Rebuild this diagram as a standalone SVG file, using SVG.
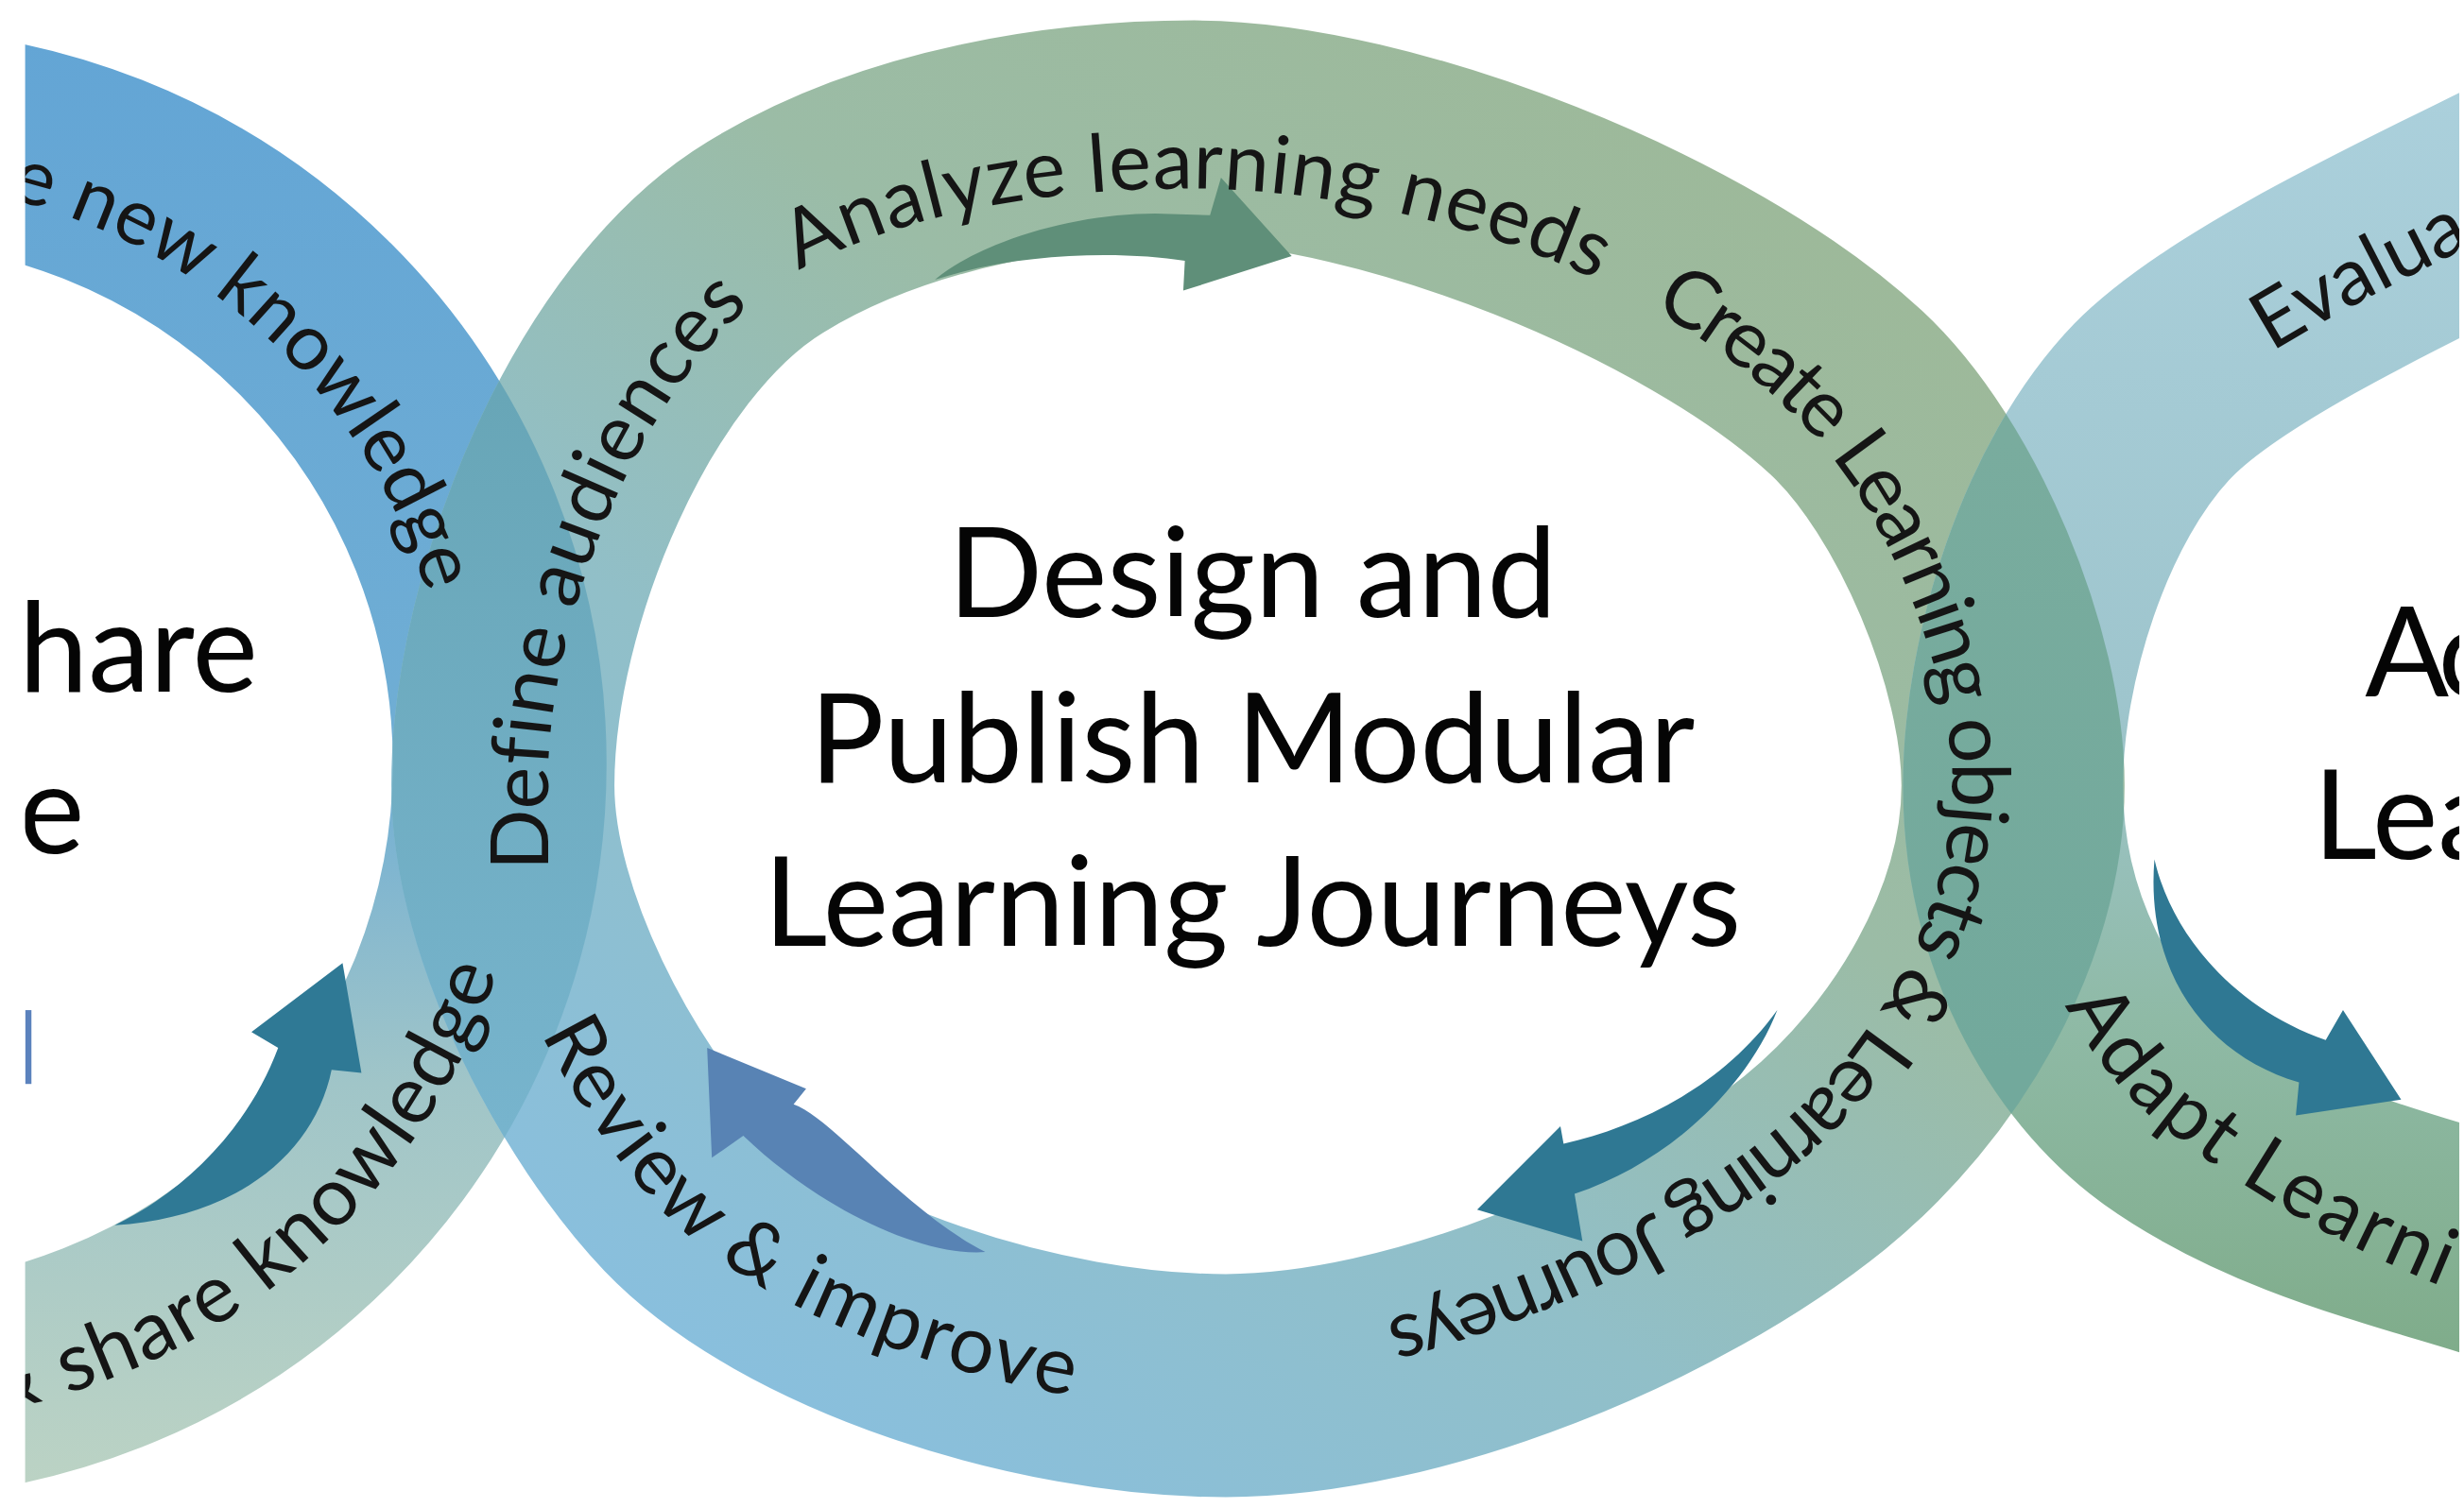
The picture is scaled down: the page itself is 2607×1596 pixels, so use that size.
<svg xmlns="http://www.w3.org/2000/svg" width="2607" height="1596" viewBox="0 0 2607 1596">
<style>
.lbl{font-family:Lato,"Open Sans","Liberation Sans",sans-serif;font-size:51px;fill:#151515}
.ttl{font-family:Lato,"Open Sans","Liberation Sans",sans-serif;font-size:79px;fill:#050505}
.band{fill:none}
</style>
<defs>
<linearGradient id="gL" gradientUnits="userSpaceOnUse" x1="0" y1="20" x2="0" y2="950">
<stop offset="0" stop-color="#63a5d5"/><stop offset="0.5" stop-color="#70aed4"/><stop offset="0.72" stop-color="#a0c5c8"/><stop offset="1" stop-color="#bcd3c4"/>
</linearGradient>
<linearGradient id="gC" gradientUnits="userSpaceOnUse" x1="1100" y1="100" x2="500" y2="900">
<stop offset="0" stop-color="#9db99a"/><stop offset="0.35" stop-color="#9bbca6"/><stop offset="0.65" stop-color="#91bfc8"/><stop offset="1" stop-color="#89bfdd"/>
</linearGradient>
<linearGradient id="gR" gradientUnits="userSpaceOnUse" x1="0" y1="50" x2="0" y2="880">
<stop offset="0" stop-color="#abd0dc"/><stop offset="0.48" stop-color="#9ec5cd"/><stop offset="0.72" stop-color="#8fbaa6"/><stop offset="1" stop-color="#7eab88"/>
</linearGradient>
<linearGradient id="gOL" gradientUnits="userSpaceOnUse" x1="0" y1="250" x2="0" y2="720">
<stop offset="0" stop-color="#68a6b7"/><stop offset="1" stop-color="#77b4cd"/>
</linearGradient>
<linearGradient id="gOR" gradientUnits="userSpaceOnUse" x1="0" y1="280" x2="0" y2="680">
<stop offset="0" stop-color="#79ac9e"/><stop offset="1" stop-color="#72a99c"/>
</linearGradient>
<path id="ringC" d="M320,500 C320,380 390,210 487,151 C572,99 680,84 760,84 C880,84 1080,162 1175,250 C1233,304 1281,420 1281,500 C1281,590 1225,683 1155,740 C1061,816 900,882 780,882 C660,882 505,832 436,760 C381,702 320,590 320,500 Z"/>
<path id="ringR" d="M1700,72 L1620,110 C1540,150 1419,205 1370,255 C1314,313 1281,420 1281,500 C1281,590 1323,669 1380,710 C1453,762 1545,779 1620,805 L1700,835"/>
<mask id="mL" maskUnits="userSpaceOnUse" x="-600" y="-300" width="2800" height="1600">
<circle cx="-82" cy="486" r="400" fill="none" stroke="#fff" stroke-width="136"/>
</mask>
<mask id="mR" maskUnits="userSpaceOnUse" x="-600" y="-300" width="2800" height="1600">
<use href="#ringR" fill="none" stroke="#fff" stroke-width="140"/>
</mask>
<clipPath id="clip"><rect x="16" y="0" width="1549" height="960"/></clipPath>
<path id="tpCW" d="M348.6,620 L348.6,499.3 C348.6,387.7 413.7,229.6 503.9,174.7 C583,130 683.4,120 757.8,120 C869.4,120 1040,160 1143.8,266.8 C1197.7,317 1242.3,424.9 1242.3,499.3 C1242.3,583 1190.3,669.5 1125.2,722.5 C1037.7,793.2 888,854.6 776.4,854.6"/>
<path id="tpCCW" d="M300.8,500.4 C300.8,594 364.2,710.5 421.4,770.8 C493.2,845.7 654.4,897.7 779.2,897.7 C904,897.7 1071.4,829 1169.2,750"/>
<path id="tpL1" d="M-146.2,121.6 A370,370 0 0 1 288,486"/>
<path id="tpL2" d="M-225.6,880.7 A420,420 0 0 0 331.6,413.1"/>
<path id="tpR1" d="M1291,518 C1291,438 1324,331 1380,273 C1429,223 1550,168 1630,128"/>
<path id="tpR2" d="M1281,500 C1281,590 1320,672 1375,716 C1445,772 1530,815 1640,850"/>
</defs>
<rect x="0" y="0" width="2607" height="1596" fill="#ffffff"/>
<g transform="scale(1.66263)">
<g clip-path="url(#clip)">
<g id="ring-left">
<circle class="band" cx="-82" cy="486" r="400" stroke="url(#gL)" stroke-width="136"/>
</g>
<g id="ring-center">
<use href="#ringC" class="band" stroke="url(#gC)" stroke-width="142"/>
</g>
<g id="ring-right">
<use href="#ringR" class="band" stroke="url(#gR)" stroke-width="140"/>
</g>
<g id="overlaps">
<use href="#ringC" class="band" stroke="url(#gOL)" stroke-width="142" mask="url(#mL)"/>
<use href="#ringC" class="band" stroke="url(#gOR)" stroke-width="142" mask="url(#mR)"/>
</g>
<g id="connectors">
<path d="M595,178 C625,153 685,136 735,136 L770,137 L777,113 L822,163 L753,185 L754,166 C715,160 650,160 595,178 Z" fill="#5f8f79"/>
<path d="M73,780 C118,758 158,718 177,667 L160,657 L218,613 L230,683 L211,681 C200,735 150,775 73,780 Z" fill="#2f7995"/>
<path d="M450,667 L513,693 L505,703 C530,712 575,770 627,797 C585,800 520,768 473,723 L453,737 Z" fill="#5883b4"/>
<path d="M940,770 L993,717 L995,728 C1040,718 1095,693 1131,643 C1112,692 1062,740 1002,760 L1007,790 Z" fill="#2f7893"/>
<path d="M1371,547 C1382,595 1422,642 1480,662 L1491,643 L1528,700 L1461,710 L1463,689 C1405,672 1365,620 1371,547 Z" fill="#2f7893"/>
<rect x="16" y="643" width="4" height="47" fill="#5b82bd"/>
</g>
<g id="labels">
<text class="lbl" style="letter-spacing:0.5px"><textPath href="#tpCW" startOffset="66">Define audiences</textPath></text>
<text class="lbl" style="letter-spacing:0.5px"><textPath href="#tpCW" startOffset="498">Analyze learning needs</textPath></text>
<text class="lbl" style="letter-spacing:-2px"><textPath href="#tpCW" startOffset="1062">Create Learning objects &amp; Learning Journeys</textPath></text>
<text class="lbl" style="letter-spacing:1.5px"><textPath href="#tpCCW" startOffset="165">Review &amp; improve</textPath></text>
<text class="lbl" style="font-size:50px"><textPath href="#tpL1" startOffset="152.5">e new knowledge</textPath></text>
<text class="lbl" style="font-size:52px;letter-spacing:1px"><textPath href="#tpL2" startOffset="220.6">&amp; share knowledge</textPath></text>
<text class="lbl"><textPath href="#tpR1" startOffset="348">Evalua</textPath></text>
<text class="lbl" style="letter-spacing:2px"><textPath href="#tpR2" startOffset="145">Adapt Learni</textPath></text>
</g>
<g id="title-left">
<text class="ttl" x="12" y="440">hare</text>
<text class="ttl" x="12" y="543">e</text>
</g>
<g id="title-center">
<text class="ttl" x="797" y="393" text-anchor="middle">Design and</text>
<text class="ttl" x="797" y="498" text-anchor="middle">Publish Modular</text>
<text class="ttl" x="797" y="602" text-anchor="middle">Learning Journeys</text>
</g>
<g id="title-right">
<text class="ttl" x="1505" y="443" style="letter-spacing:-6px">Ac</text>
<text class="ttl" x="1472" y="547">Lea</text>
</g>
</g>
</g>
</svg>
